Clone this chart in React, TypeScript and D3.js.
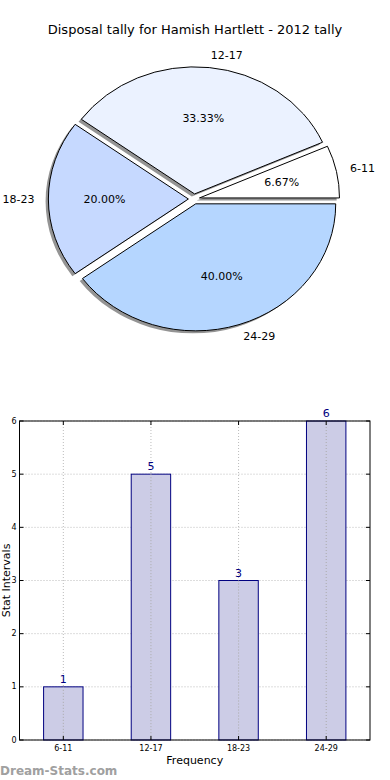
import React from "react";
import * as d3 from "d3";

const categories = ["6-11", "12-17", "18-23", "24-29"];
const tallies = [1, 5, 3, 6];
const sliceColors = ["#ffffff", "#ebf2ff", "#c6d9ff", "#b5d6ff"];
const yTicks = [0, 1, 2, 3, 4, 5, 6];

const FONT = "DejaVu Sans, Verdana, sans-serif";

// pie geometry (matplotlib style: starts at 3 o'clock, goes counterclockwise, not aspect-equal)
const cx = 194, cy = 199, rx = 140, ry = 127;
const explode = 0.04;

function Pie() {
  const total = d3.sum(tallies);
  const slices = d3
    .pie<number>()
    .sort(null)
    .startAngle(Math.PI / 2)
    .endAngle(Math.PI / 2 - 2 * Math.PI)(tallies);
  const arc = d3.arc<any>().innerRadius(0).outerRadius(1);

  return (
    <g>
      {slices.map((s, i) => {
        const mid = (s.startAngle + s.endAngle) / 2;
        const dx = Math.sin(mid), dy = -Math.cos(mid);
        const ox = cx + explode * dx * rx;
        const oy = cy + explode * dy * ry;
        return (
          <path
            key={"sh" + i}
            d={arc(s) as string}
            transform={`translate(${ox - 2.8},${oy + 2.5}) scale(${rx},${ry})`}
            fill="#000"
            opacity={0.42}
          />
        );
      })}
      {slices.map((s, i) => {
        const mid = (s.startAngle + s.endAngle) / 2;
        const dx = Math.sin(mid), dy = -Math.cos(mid);
        const ox = cx + explode * dx * rx;
        const oy = cy + explode * dy * ry;
        const lx = cx + (explode + 1.1) * dx * rx;
        const ly = cy + (explode + 1.1) * dy * ry;
        const px = cx + (explode + 0.6) * dx * rx;
        const py = cy + (explode + 0.6) * dy * ry;
        return (
          <g key={i}>
            <path
              d={arc(s) as string}
              transform={`translate(${ox},${oy}) scale(${rx},${ry})`}
              fill={sliceColors[i]}
              stroke="#000"
              strokeWidth={1}
              vectorEffect="non-scaling-stroke"
            />
            <text
              x={lx}
              y={ly}
              textAnchor={dx > 0 ? "start" : "end"}
              dominantBaseline="central"
              fontSize={11}
              fontFamily={FONT}
            >
              {categories[i]}
            </text>
            <text
              x={px}
              y={py}
              textAnchor="middle"
              dominantBaseline="central"
              fontSize={11}
              fontFamily={FONT}
            >
              {((tallies[i] / total) * 100).toFixed(2) + "%"}
            </text>
          </g>
        );
      })}
    </g>
  );
}

function Bars() {
  const left = 19.5, right = 370, top = 421, bottom = 740;
  const x = d3.scaleLinear().domain([-0.5, 3.5]).range([left, right]);
  const y = d3.scaleLinear().domain([0, 6]).range([bottom, top]);
  const barW = x(0.45) - x(0);

  return (
    <g>
      {/* grid */}
      {yTicks.map((t) => (
        <line key={"gy" + t} x1={left} x2={right} y1={y(t)} y2={y(t)} stroke="#bbb" strokeWidth={1} strokeDasharray="1,2" />
      ))}
      {categories.map((c, i) => (
        <line key={"gx" + c} x1={x(i)} x2={x(i)} y1={top} y2={bottom} stroke="#bbb" strokeWidth={1} strokeDasharray="1,2" />
      ))}
      {/* bars */}
      {tallies.map((v, i) => (
        <rect
          key={"b" + i}
          x={x(i) - barW / 2}
          y={y(v)}
          width={barW}
          height={bottom - y(v)}
          fill="#ccccE6"
          stroke="#000080"
          strokeWidth={1}
        />
      ))}
      {/* grid drawn over the bars */}
      {categories.map((c, i) => (
        <line key={"gx2" + c} x1={x(i)} x2={x(i)} y1={y(tallies[i])} y2={bottom} stroke="#aaa" strokeWidth={1} strokeDasharray="1,2" />
      ))}
      {tallies.map((v, i) => (
        <text
          key={"v" + i}
          x={x(i)}
          y={y(v) - 4}
          textAnchor="middle"
          fontSize={11}
          fill="#000080"
          fontFamily={FONT}
        >
          {v}
        </text>
      ))}
      {/* frame */}
      <rect x={left} y={top} width={right - left} height={bottom - top} fill="none" stroke="#000" strokeWidth={1} />
      {/* ticks */}
      {yTicks.map((t) => (
        <g key={"ty" + t}>
          <line x1={left} x2={left + 4} y1={y(t)} y2={y(t)} stroke="#000" />
          <line x1={right - 4} x2={right} y1={y(t)} y2={y(t)} stroke="#000" />
          <text x={left - 3} y={y(t)} textAnchor="end" dominantBaseline="central" fontSize={8} fontFamily={FONT}>
            {t}
          </text>
        </g>
      ))}
      {categories.map((c, i) => (
        <g key={"tx" + c}>
          <line x1={x(i)} x2={x(i)} y1={bottom - 4} y2={bottom} stroke="#000" />
          <line x1={x(i)} x2={x(i)} y1={top} y2={top + 4} stroke="#000" />
          <text x={x(i)} y={bottom + 11} textAnchor="middle" fontSize={8} fontFamily={FONT}>
            {c}
          </text>
        </g>
      ))}
      <text x={(left + right) / 2} y={764} textAnchor="middle" fontSize={11} fontFamily={FONT}>
        Frequency
      </text>
      <text
        transform={`translate(9.5,${(top + bottom) / 2}) rotate(-90)`}
        textAnchor="middle"
        fontSize={11}
        fontFamily={FONT}
      >
        Stat Intervals
      </text>
    </g>
  );
}

export default function App() {
  return (
    <svg
      width={390}
      height={780}
      style={{ position: "absolute", left: 0, top: 0, background: "#fff" }}
    >
      <rect width={390} height={780} fill="#fff" />
      <text x={195} y={34} textAnchor="middle" fontSize={13} fontFamily={FONT}>
        Disposal tally for Hamish Hartlett - 2012 tally
      </text>
      <Pie />
      <Bars />
      <text x={0} y={775} fontSize={12} fontWeight="bold" fill="#a0a0a0" fontFamily={FONT}>
        Dream-Stats.com
      </text>
    </svg>
  );
}
